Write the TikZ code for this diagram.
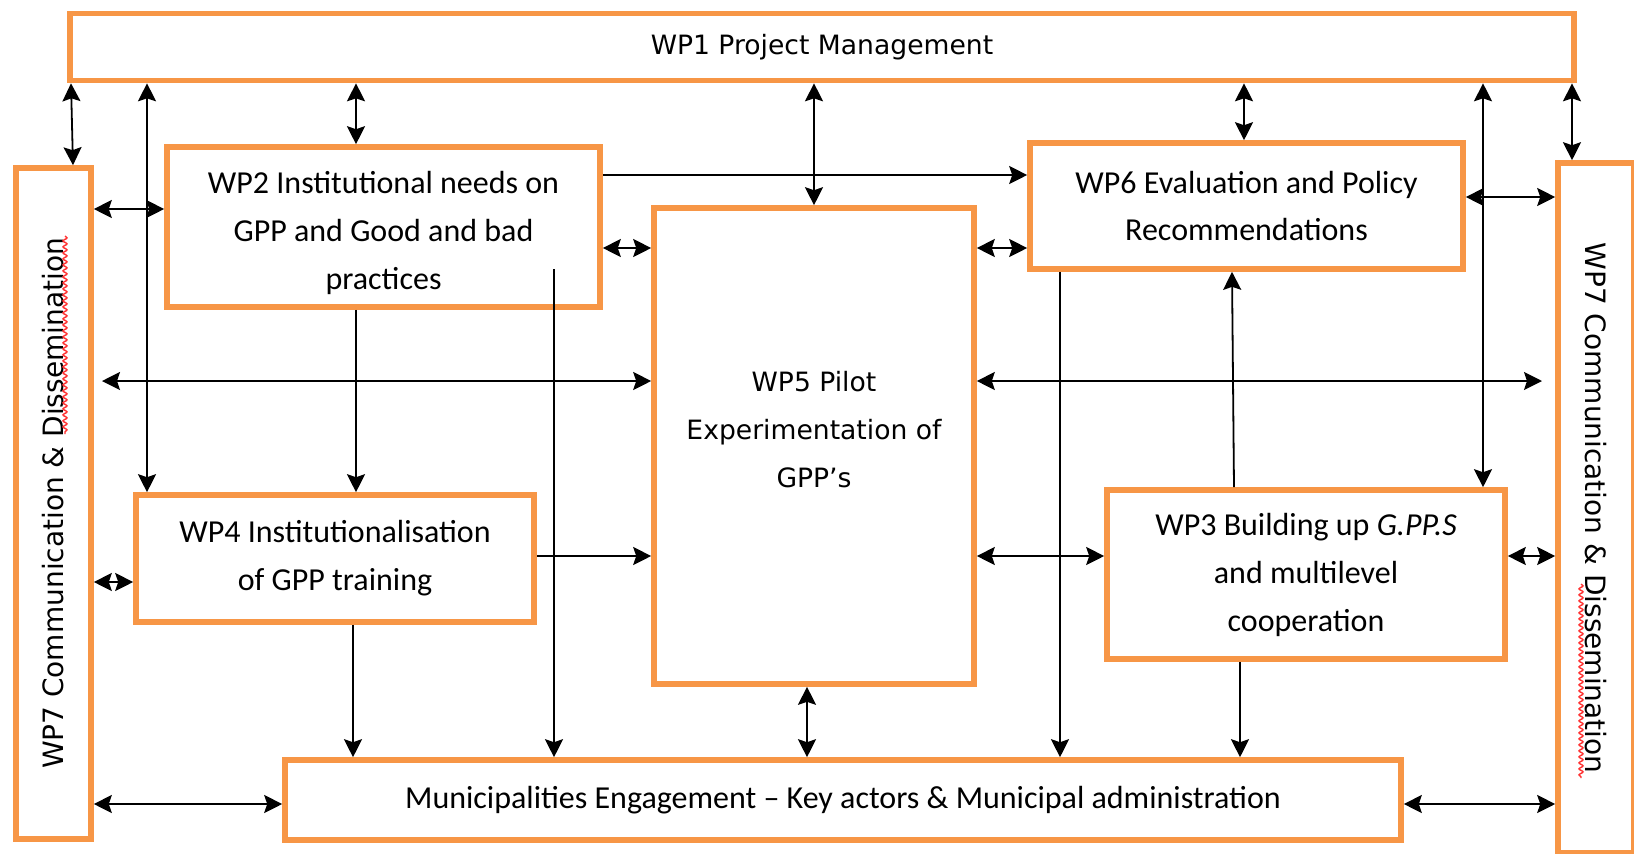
\documentclass[tikz,border=0pt]{standalone}
\usepackage{fontspec}
\setmainfont{Carlito}
\newfontfamily\wpsans{DejaVu Sans}
\usepackage{xcolor}
\usepackage{tikz}
\usetikzlibrary{arrows.meta,positioning,decorations.pathmorphing}
\definecolor{wporange}{RGB}{247,150,70}

\begin{document}
\begin{tikzpicture}[
  x=0.5pt, y=-0.5pt,
  wpbox/.style={rectangle, draw=wporange, line width=2.8pt, align=center, inner sep=2pt, font=\fontsize{16}{24}\selectfont},
  sansbox/.style={wpbox, font=\wpsans\fontsize{13.3}{24}\selectfont},
  arrow/.style={-{Stealth[length=9pt,width=9pt,inset=1.5pt]}, line width=0.9pt},
  dblarrow/.style={{Stealth[length=9pt,width=9pt,inset=1.5pt]}-{Stealth[length=9pt,width=9pt,inset=1.5pt]}, line width=0.9pt},
  spell/.style={red!80, line width=0.7pt, decorate, decoration={snake, amplitude=1pt, segment length=3pt}}
]
\useasboundingbox (0,0) rectangle (1634,853);

% Work packages
\node[sansbox, minimum width=752pt, minimum height=33.5pt] (wp1) at (822,47) {WP1 Project Management};
\node[wpbox, minimum width=216.5pt, minimum height=80pt] (wp2) at (383.5,227) {};
\node[wpbox, draw=none] (wp2text) at (383.5,233) {WP2 Institutional needs on\\GPP and Good and bad\\practices};
\node[wpbox, minimum width=216.5pt, minimum height=63pt] (wp6) at (1246.5,206) {WP6 Evaluation and Policy\\Recommendations};
\node[wpbox, minimum width=160pt, minimum height=238pt] (wp5) at (814,446) {};
\node[sansbox, draw=none] (wp5text) at (814,430) {WP5 Pilot\\Experimentation of\\GPP’s};
\node[wpbox, minimum width=199pt, minimum height=63.5pt] (wp4) at (335,558.5) {WP4 Institutionalisation\\of GPP training};
\node[wpbox, minimum width=199pt, minimum height=84.5pt] (wp3) at (1306,574.5) {WP3 Building up \textit{G.PP.S}\\and multilevel\\cooperation};
\node[wpbox, minimum width=558pt, minimum height=40pt] (mun) at (843,800) {Municipalities Engagement – Key actors \& Municipal administration};

% WP7 on both sides
\node[wpbox, minimum width=37.5pt, minimum height=335.5pt] (wp7l) at (53.5,503.5) {\rotatebox{90}{\wpsans\fontsize{14}{16}\selectfont WP7 Communication \& Dissemination}};
\node[wpbox, minimum width=38pt, minimum height=345pt] (wp7r) at (1596,508) {\rotatebox{-90}{\wpsans\fontsize{14}{16}\selectfont WP7 Communication \& Dissemination}};
\draw[spell] (65,236) -- (65,434);
\draw[spell] (1581,584) -- (1581,778);

\coordinate (wp2drop) at (554,269);
\coordinate (leftend) at (102,381);
\coordinate (rightend) at (1542,381);

% links to WP1
\draw[dblarrow] (wp1.south -| 71,0) -- (wp7l.north -| 73,0);
\draw[dblarrow] (wp1.south -| 147,0) -- (wp4.north -| 147,0);
\draw[dblarrow] (wp1.south -| 356,0) -- (wp2.north -| 356,0);
\draw[dblarrow] (wp1.south -| wp5.north) -- (wp5.north);
\draw[dblarrow] (wp1.south -| 1244,0) -- (wp6.north -| 1244,0);
\draw[dblarrow] (wp1.south -| 1483,0) -- (wp3.north -| 1483,0);
\draw[dblarrow] (wp1.south -| 1572,0) -- (wp7r.north -| 1572,0);

% horizontal links
\draw[dblarrow] (wp7l.east |- 0,209) -- (wp2.west |- 0,209);
\draw[arrow] (wp2.east |- 0,175) -- (wp6.west |- 0,175);
\draw[dblarrow] (wp2.east |- 0,248) -- (wp5.west |- 0,248);
\draw[dblarrow] (wp5.east |- 0,248) -- (wp6.west |- 0,248);
\draw[dblarrow] (wp6.east |- 0,197) -- (wp7r.west |- 0,197);
\draw[dblarrow] (leftend) -- (wp5.west |- leftend);
\draw[dblarrow] (wp5.east |- rightend) -- (rightend);
\draw[dblarrow] (wp7l.east |- 0,582) -- (wp4.west |- 0,582);
\draw[arrow] (wp4.east |- 0,556) -- (wp5.west |- 0,556);
\draw[dblarrow] (wp5.east |- 0,556) -- (wp3.west |- 0,556);
\draw[dblarrow] (wp3.east |- 0,556) -- (wp7r.west |- 0,556);
\draw[dblarrow] (wp7l.east |- 0,804) -- (mun.west |- 0,804);
\draw[dblarrow] (mun.east |- 0,804) -- (wp7r.west |- 0,804);

% vertical links
\draw[arrow] (wp2.south -| 356,0) -- (wp4.north -| 356,0);
\draw[arrow] (wp2drop) -- (mun.north -| wp2drop);
\draw[arrow] (wp4.south -| 353,0) -- (mun.north -| 353,0);
\draw[dblarrow] (wp5.south -| 807,0) -- (mun.north -| 807,0);
\draw[arrow] (wp6.south -| 1060,0) -- (mun.north -| 1060,0);
\draw[arrow] (wp3.north -| 1234,0) -- (wp6.south -| 1232,0);
\draw[arrow] (wp3.south -| 1240,0) -- (mun.north -| 1240,0);

\end{tikzpicture}
\end{document}
